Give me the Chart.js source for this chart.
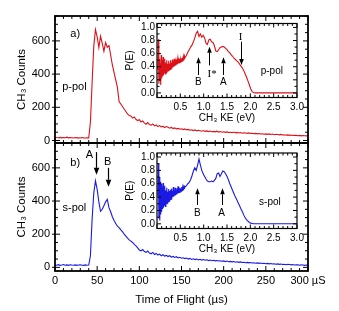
<!DOCTYPE html>
<html><head><meta charset="utf-8">
<script src="https://cdn.jsdelivr.net/npm/chart.js@4.4.0/dist/chart.umd.min.js"></script>
<style>
html,body{margin:0;padding:0;background:#fff;}
#wrap{position:relative;width:339px;height:311px;overflow:hidden;background:#fff;}
canvas{position:absolute;left:0;top:0;}
</style></head><body>
<div id="wrap">
<canvas id="mainTop" width="339" height="311"></canvas>
<canvas id="mainBottom" width="339" height="311"></canvas>
<canvas id="insetTop" width="339" height="311"></canvas>
<canvas id="insetBottom" width="339" height="311"></canvas>
</div>
<script>
// ---- Time-of-flight data (µs) ----
const tofTime = [0,2,4,6,8,10,12,14,16,18,20,22,24,26,28,30,32,34,36,38,40,
 42,44,46,48,50,52,54,56,58,60,62,64,66,68,70,72,74,76,78,80,82,84,86,88,90,92,94,96,98,100,
 102,104,106,108,110,112,114,116,118,120,122,124,126,128,130,132,134,136,138,140,142,144,146,148,150,
 152,154,156,158,160,162,164,166,168,170,172,174,176,178,180,182,184,186,188,190,192,194,196,198,200,
 202,204,206,208,210,212,214,216,218,220,222,224,226,228,230,232,234,236,238,240,242,244,246,248,250,
 252,254,256,258,260,262,264,266,268,270,272,274,276,278,280,282,284,286,288,290,292,294,296,298,300];
const ppolCounts = [20,18,17,19,16,18,17,20,16,18,17,15,18,16,17,15,18,16,15,17,16,
 110,350,570,668,625,560,628,585,538,590,562,572,515,455,410,365,320,235,220,205,190,175,160,150,148,135,142,128,120,125,
 112,118,105,98,108,96,92,100,88,94,84,90,82,86,78,84,80,74,79,72,76,70,73,68,71,
 66,70,64,67,62,65,60,64,58,62,59,56,60,55,58,54,57,53,55,52,56,51,54,50,53,
 49,52,48,50,47,51,46,49,45,48,44,47,45,43,46,42,44,41,43,40,42,39,41,38,40,
 37,40,36,39,35,38,36,34,37,33,35,32,34,31,33,30,32,31,29,31,28,30,29,28,30];
const spolCounts = [15,13,16,12,14,17,13,15,12,16,14,13,15,12,14,16,13,12,15,13,14,
 70,290,450,522,470,395,338,350,372,395,410,360,335,305,282,265,248,240,226,215,200,188,176,166,158,150,138,130,118,105,
 100,108,95,90,98,86,82,90,78,84,74,80,70,76,68,72,65,70,62,66,60,64,57,61,55,
 58,53,56,50,54,48,52,47,50,45,49,44,47,43,46,41,44,40,43,39,41,38,40,37,39,
 35,38,34,36,33,35,31,34,30,33,29,31,28,30,27,29,26,28,25,27,24,26,23,25,22,
 24,21,23,20,22,19,21,18,20,17,19,16,18,17,15,17,14,16,15,13,15,14,12,14,13];

// ---- CH3 kinetic energy distributions (eV) ----
const keEnergy = [0.02,0.03,0.04,0.05,0.06,0.07,0.08,0.09,0.10,0.11,0.12,0.13,0.14,0.15,0.16,0.17,0.18,0.19,0.20,0.21,
 0.22,0.23,0.24,0.25,0.26,0.27,0.28,0.29,0.30,0.31,0.32,0.33,0.34,0.35,0.36,0.37,0.38,0.39,0.40,0.41,
 0.42,0.43,0.44,0.45,0.46,0.47,0.48,0.49,0.50,0.51,0.52,0.53,0.54,0.55,0.56,0.57,0.58,0.59,0.60,
 0.63,0.66,0.69,0.72,0.75,0.78,0.81,0.84,0.87,0.90,0.93,0.96,0.99,1.02,1.05,1.08,1.11,1.14,1.17,1.20,
 1.23,1.26,1.29,1.32,1.35,1.38,1.41,1.44,1.47,1.50,1.53,1.56,1.59,1.62,1.65,1.68,1.71,1.74,1.77,1.80,
 1.83,1.86,1.89,1.92,1.95,1.98,2.01,2.04,2.07,2.10,
 2.2,2.3,2.4,2.5,2.6,2.7,2.8,2.9,3.0];
const ppolPE = [0.35,0.82,0.14,0.52,0.18,0.45,0.12,0.58,0.22,0.50,0.25,0.55,0.27,0.44,0.30,0.52,0.29,0.46,0.31,0.50,
 0.33,0.44,0.34,0.49,0.35,0.45,0.36,0.50,0.37,0.46,0.38,0.51,0.39,0.47,0.40,0.52,0.41,0.48,0.42,0.51,
 0.43,0.49,0.44,0.53,0.45,0.50,0.46,0.52,0.47,0.51,0.48,0.53,0.49,0.52,0.50,0.55,0.52,0.56,0.54,
 0.57,0.62,0.66,0.70,0.73,0.78,0.84,0.91,0.94,0.86,0.90,0.85,0.88,0.84,0.76,0.74,0.81,0.82,0.78,0.77,
 0.72,0.64,0.63,0.66,0.69,0.70,0.71,0.70,0.68,0.66,0.63,0.61,0.58,0.56,0.53,0.51,0.49,0.47,0.44,0.41,
 0.38,0.34,0.29,0.24,0.18,0.12,0.06,0.02,0.005,0.0,
 0,0,0,0,0,0,0,0,0];
const spolPE = [0.42,0.90,0.08,0.70,0.05,0.63,0.14,0.60,0.18,0.56,0.22,0.61,0.24,0.52,0.27,0.57,0.26,0.50,0.30,0.54,
 0.31,0.48,0.33,0.52,0.34,0.49,0.36,0.51,0.37,0.53,0.38,0.49,0.40,0.55,0.41,0.50,0.42,0.54,0.43,0.51,
 0.44,0.53,0.45,0.56,0.46,0.52,0.47,0.54,0.48,0.53,0.49,0.55,0.50,0.54,0.51,0.55,0.53,0.56,0.55,
 0.57,0.60,0.62,0.66,0.72,0.79,0.84,0.80,0.88,0.97,0.88,0.80,0.75,0.71,0.67,0.64,0.63,0.63,0.64,0.63,
 0.65,0.68,0.75,0.76,0.71,0.75,0.79,0.78,0.75,0.71,0.66,0.60,0.55,0.50,0.45,0.40,0.36,0.31,0.27,0.22,
 0.18,0.13,0.09,0.06,0.04,0.02,0.01,0.005,0.0,0.0,
 0,0,0,0,0,0,0,0,0];

// ---- tick label values ----
const tofTicks = [0, 50, 100, 150, 200, 250, 300];
const countTicks = [0, 200, 400, 600];
const keTicks = [0.5, 1.0, 1.5, 2.0, 2.5, 3.0];
const peTicks = [0.0, 0.2, 0.4, 0.6, 0.8, 1.0];

const RED = '#dc1018';
const BLUE = '#1a1ae4';
const FONT = "'Liberation Sans', Arial, Helvetica, sans-serif";
const SERIF = "'Liberation Serif', 'Times New Roman', serif";

const pts = (xs, ys) => xs.map((v, i) => ({x: v, y: ys[i]}));
const setTicks = vals => s => { s.ticks = vals.map(v => ({value: v})); };
const NOGRID = { display: false, drawTicks: false, tickLength: 0 };

const framePlugin = {
  id: 'frame',
  beforeDraw(chart, args, o) {
    if (!o.fill) return;
    const a = chart.chartArea, ctx = chart.ctx;
    ctx.save(); ctx.fillStyle = '#fff';
    ctx.fillRect(a.left, a.top, a.right - a.left, a.bottom - a.top);
    ctx.restore();
  },
  afterDraw(chart, args, o) {
    const {ctx, chartArea: a, scales} = chart;
    const x = scales.x, y = scales.y;
    ctx.save();
    ctx.strokeStyle = '#000';
    ctx.lineWidth = o.tickWidth;
    ctx.beginPath();
    const walk = (scale, minor, major, cb) => {
      const s = Math.ceil(scale.min / minor - 1e-6);
      for (let k = s; k * minor <= scale.max + 1e-6; k++) {
        const v = k * minor;
        const r = v / major;
        cb(scale.getPixelForValue(v), Math.abs(r - Math.round(r)) < 1e-6);
      }
    };
    walk(x, o.xMinor, o.xMajor, (p, maj) => {
      const L = maj ? o.majorLen : o.minorLen;
      ctx.moveTo(p, a.bottom); ctx.lineTo(p, a.bottom - L);
      ctx.moveTo(p, a.top); ctx.lineTo(p, a.top + L);
    });
    walk(y, o.yMinor, o.yMajor, (p, maj) => {
      const L = maj ? o.majorLen : o.minorLen;
      ctx.moveTo(a.left, p); ctx.lineTo(a.left + L, p);
      ctx.moveTo(a.right, p); ctx.lineTo(a.right - L, p);
      if (maj && o.outLen) { ctx.moveTo(a.left, p); ctx.lineTo(a.left - o.outLen, p); }
    });
    ctx.stroke();
    ctx.lineWidth = o.frameWidth;
    ctx.strokeRect(a.left, a.top, a.right - a.left, a.bottom - a.top);
    ctx.restore();
  }
};

const notesPlugin = {
  id: 'notes',
  afterDatasetsDraw(chart, args, o) {
    const {ctx, scales} = chart;
    const x = scales.x, y = scales.y;
    ctx.save();
    ctx.fillStyle = '#000'; ctx.strokeStyle = '#000';
    (o.texts || []).forEach(t => {
      ctx.font = t.font; ctx.textAlign = 'center'; ctx.textBaseline = 'middle';
      ctx.fillText(t.text, x.getPixelForValue(t.x), y.getPixelForValue(t.y));
    });
    (o.arrows || []).forEach(ar => {
      const px = Math.round(x.getPixelForValue(ar.x)) + 0.5;
      const p0 = y.getPixelForValue(ar.from), p1 = y.getPixelForValue(ar.to);
      const dir = Math.sign(p1 - p0);
      ctx.lineWidth = ar.lw;
      ctx.beginPath(); ctx.moveTo(px, p0); ctx.lineTo(px, p1 - dir * ar.head); ctx.stroke();
      ctx.beginPath(); ctx.moveTo(px, p1);
      ctx.lineTo(px - ar.hw, p1 - dir * ar.head); ctx.lineTo(px + ar.hw, p1 - dir * ar.head);
      ctx.closePath(); ctx.fill();
    });
    ctx.restore();
  }
};

function mainChart(id, counts, color, opt) {
  return new Chart(document.getElementById(id), {
    type: 'line',
    data: { datasets: [{ data: pts(tofTime, counts), borderColor: color, borderWidth: 1.1,
      pointRadius: 0, tension: 0, fill: false }] },
    options: {
      responsive: false, animation: false, devicePixelRatio: 1,
      layout: { padding: opt.padding },
      plugins: { legend: { display: false }, tooltip: { enabled: false },
        frame: { fill: false, frameWidth: 1.8, tickWidth: 1, majorLen: 5, minorLen: 3, outLen: 3,
          xMinor: 10, xMajor: 50, yMinor: 50, yMajor: 200 },
        notes: opt.notes },
      scales: {
        x: { type: 'linear', min: 0, max: 300,
          grid: NOGRID, border: { display: false },
          afterBuildTicks: setTicks(tofTicks),
          ticks: { display: opt.showX, autoSkip: false, maxRotation: 0,
            color: '#000', padding: 3, font: { family: FONT, size: 11 },
            callback: v => v === 300 ? '300 \u00B5S' : String(v) },
          title: { display: opt.showX, text: 'Time of Flight (\u00B5s)', color: '#000',
            font: { family: FONT, size: 11.5 }, padding: { top: 0, bottom: 4 } },
          afterFit: s => { s.height = opt.xHeight; } },
        y: { type: 'linear', min: opt.ymin, max: 750,
          grid: NOGRID, border: { display: false },
          afterBuildTicks: setTicks(countTicks),
          ticks: { autoSkip: false, color: '#000', padding: 5,
            font: { family: FONT, size: 11 }, callback: v => String(v) },
          title: { display: true, text: 'CH\u2083 Counts', color: '#000',
            font: { family: FONT, size: 11.5 }, padding: { top: 15, bottom: 0 } },
          afterFit: s => { s.width = 55; } }
      }
    },
    plugins: [framePlugin, notesPlugin]
  });
}

function insetChart(id, pe, color, opt) {
  return new Chart(document.getElementById(id), {
    type: 'line',
    data: { datasets: [{ data: pts(keEnergy, pe), borderColor: color, borderWidth: 1.1,
      pointRadius: 0, tension: 0, fill: false }] },
    options: {
      responsive: false, animation: false, devicePixelRatio: 1,
      layout: { padding: opt.padding },
      plugins: { legend: { display: false }, tooltip: { enabled: false },
        frame: { fill: true, frameWidth: 1.2, tickWidth: 1, majorLen: 4, minorLen: 2.5, outLen: 0,
          xMinor: 0.1, xMajor: 0.5, yMinor: 0.1, yMajor: 0.2 },
        notes: opt.notes },
      scales: {
        x: { type: 'linear', min: 0, max: 3,
          grid: NOGRID, border: { display: false },
          afterBuildTicks: setTicks(keTicks),
          ticks: { autoSkip: false, maxRotation: 0, color: '#000', padding: 4,
            font: { family: FONT, size: 10 }, callback: v => v.toFixed(1) },
          title: { display: true, text: 'CH\u2083 KE (eV)', color: '#000',
            font: { family: FONT, size: 10 }, padding: { top: 0, bottom: 1 } },
          afterFit: s => { s.height = 28; } },
        y: { type: 'linear', min: -0.07, max: 1.06,
          grid: NOGRID, border: { display: false },
          afterBuildTicks: setTicks(peTicks),
          ticks: { autoSkip: false, color: '#000', padding: 2,
            font: { family: FONT, size: 10 }, callback: v => v.toFixed(1) },
          title: { display: true, text: 'P(E)', color: '#000',
            font: { family: FONT, size: 10 }, padding: { top: 4, bottom: 0 } },
          afterFit: s => { s.width = 37; } }
      }
    },
    plugins: [framePlugin, notesPlugin]
  });
}

const F11 = '11px ' + FONT;
const F10 = '10px ' + FONT;
const S11 = '11px ' + SERIF;

mainChart('mainTop', ppolCounts, RED, {
  padding: { left: 0, top: 16, right: 31, bottom: 168 }, showX: false, xHeight: 0, ymin: -15,
  notes: { texts: [ { x: 24, y: 640, text: 'a)', font: F11 }, { x: 23, y: 320, text: 'p-pol', font: F11 } ] }
});
mainChart('mainBottom', spolCounts, BLUE, {
  padding: { left: 0, top: 143, right: 31, bottom: 0 }, showX: true, xHeight: 40, ymin: -22,
  notes: {
    texts: [ { x: 24, y: 630, text: 'b)', font: F11 }, { x: 23, y: 360, text: 's-pol', font: F11 },
             { x: 40.7, y: 680, text: 'A', font: F11 }, { x: 62.5, y: 636, text: 'B', font: F11 } ],
    arrows: [ { x: 48.6, from: 695, to: 558, lw: 1.2, head: 7, hw: 2.8 },
              { x: 62.5, from: 600, to: 486, lw: 1.2, head: 7, hw: 2.8 } ] }
});
insetChart('insetTop', ppolPE, RED, {
  padding: { left: 120, top: 23.5, right: 42, bottom: 185.5 },
  notes: {
    texts: [ { x: 0.885, y: 0.156, text: 'B', font: F10 }, { x: 1.42, y: 0.156, text: 'A', font: F10 },
             { x: 1.18, y: 0.29, text: 'I*', font: S11 }, { x: 1.79, y: 0.858, text: 'I', font: S11 },
             { x: 2.46, y: 0.324, text: 'p-pol', font: F10 } ],
    arrows: [ { x: 0.885, from: 0.274, to: 0.544, lw: 1, head: 6, hw: 2.3 },
              { x: 1.12, from: 0.42, to: 0.706, lw: 1, head: 6, hw: 2.3 },
              { x: 1.42, from: 0.274, to: 0.544, lw: 1, head: 6, hw: 2.3 },
              { x: 1.79, from: 0.782, to: 0.426, lw: 1, head: 6, hw: 2.3 } ] }
});
insetChart('insetBottom', spolPE, BLUE, {
  padding: { left: 120, top: 153, right: 42, bottom: 54.5 },
  notes: {
    texts: [ { x: 0.864, y: 0.158, text: 'B', font: F10 }, { x: 1.386, y: 0.158, text: 'A', font: F10 },
             { x: 2.42, y: 0.33, text: 's-pol', font: F10 } ],
    arrows: [ { x: 0.864, from: 0.282, to: 0.532, lw: 1, head: 6, hw: 2.3 },
              { x: 1.386, from: 0.282, to: 0.532, lw: 1, head: 6, hw: 2.3 } ] }
});
</script>
</body></html>
